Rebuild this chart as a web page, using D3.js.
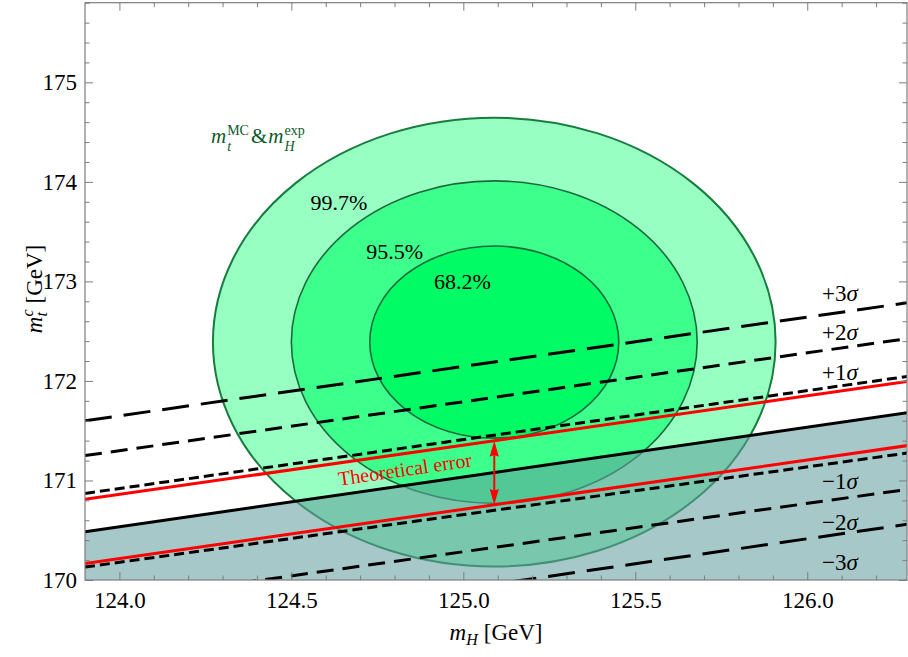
<!DOCTYPE html>
<html>
<head>
<meta charset="utf-8">
<script src="https://cdn.jsdelivr.net/npm/d3@7"></script>
<style>
  html, body { margin: 0; padding: 0; background: #fff; }
  svg { display: block; }
  svg text { font-family: "Liberation Serif", "Times New Roman", "DejaVu Serif", serif; }
</style>
</head>
<body>
<svg id="chart" width="908" height="657"></svg>
<script>
// ---- data ----------------------------------------------------------------
const mHDomain = [123.9, 126.29];
const mtDomain = [170, 175.8];

const xMajorTicks = [124.0, 124.5, 125.0, 125.5, 126.0];
const yMajorTicks = [170, 171, 172, 173, 174, 175];

// measured Higgs / top mass point and its confidence ellipses
const fitCenter = [125.09, 172.39];
const clLabels = ["99.7%", "95.5%", "68.2%"];
const clRadiusMH = [0.818, 0.59, 0.362];
const clRadiusMt = [2.255, 1.62, 0.965];
const clFill = ["#98ffc3", "#3dff8c", "#00fb64"];
const clStroke = ["#177c3e", "#1b6a3c", "#1b6a3c"];
const clStrokeW = [2, 1.6, 1.6];
const clLabelPos = [[124.556, 173.717], [124.718, 173.225], [124.915, 172.92]];

// stability bound and its bands, given by m_t at the two ends of the mH range
const lineEnds = [123.9, 126.3];
const centralBound = [170.485, 171.685];
const theoryUpper = [170.81, 172.0];
const theoryLower = [170.165, 171.355];

const sigmaLabels = ["+3", "+2", "+1", "\u22121", "\u22122", "\u22123"];
const sigmaOrder = [3, 2, 1, 1, 2, 3];
const sigmaBounds = [
  [171.60, 172.79],
  [171.25, 172.43],
  [170.87, 172.05],
  [170.13, 171.28],
  [169.75, 170.915],
  [169.36, 170.565]
];
const sigmaLabelPos = [
  [126.043, 172.873], [126.043, 172.481], [126.043, 172.08],
  [126.043, 170.985], [126.043, 170.573], [126.043, 170.171]
];
const errorArrowMH = 125.09;
const errorLabelPos = [124.833, 171.045];

// ---- layout --------------------------------------------------------------
const plot = { left: 85, right: 907, top: 2.7, bottom: 580 };
const svg = d3.select("#chart");
const x = d3.scaleLinear().domain(mHDomain).range([plot.left, plot.right]);
const y = d3.scaleLinear().domain(mtDomain).range([plot.bottom, plot.top]);

svg.append("defs").append("clipPath").attr("id", "plotClip")
  .append("rect")
  .attr("x", plot.left).attr("y", plot.top)
  .attr("width", plot.right - plot.left).attr("height", plot.bottom - plot.top);

const body = svg.append("g").attr("clip-path", "url(#plotClip)");

// confidence ellipses, largest first
clLabels.forEach((_, i) => {
  body.append("ellipse")
    .attr("cx", x(fitCenter[0]))
    .attr("cy", y(fitCenter[1]))
    .attr("rx", x(fitCenter[0] + clRadiusMH[i]) - x(fitCenter[0]))
    .attr("ry", y(fitCenter[1]) - y(fitCenter[1] + clRadiusMt[i]))
    .attr("fill", clFill[i])
    .attr("stroke", clStroke[i])
    .attr("stroke-width", clStrokeW[i]);
});

// excluded (metastable) region below the central bound, translucent
const boundPts = lineEnds.map((m, i) => [m, centralBound[i]]);
body.append("path")
  .datum(boundPts)
  .attr("d", d3.area().x(d => x(d[0])).y0(y(mtDomain[0])).y1(d => y(d[1])))
  .attr("fill", "rgb(99,158,158)")
  .attr("fill-opacity", 0.57);

const line = d3.line().x(d => x(d[0])).y(d => y(d[1]));
const dashBy = { 1: "10,5", 2: "17,9", 3: "27,12" };

// alpha_s variations
sigmaBounds.forEach((b, i) => {
  body.append("path")
    .datum(lineEnds.map((m, j) => [m, b[j]]))
    .attr("d", line)
    .attr("fill", "none")
    .attr("stroke", "#000")
    .attr("stroke-width", 3)
    .attr("stroke-dasharray", dashBy[sigmaOrder[i]]);
});

// theoretical error band edges
[theoryUpper, theoryLower].forEach(b => {
  body.append("path")
    .datum(lineEnds.map((m, j) => [m, b[j]]))
    .attr("d", line)
    .attr("fill", "none")
    .attr("stroke", "#ff0000")
    .attr("stroke-width", 3);
});

// central bound
body.append("path")
  .datum(boundPts)
  .attr("d", line)
  .attr("fill", "none")
  .attr("stroke", "#000")
  .attr("stroke-width", 3);

// double arrow spanning the theoretical error
const upAt = d3.scaleLinear().domain(lineEnds).range(theoryUpper);
const loAt = d3.scaleLinear().domain(lineEnds).range(theoryLower);
const ax = x(errorArrowMH), ayTop = y(upAt(errorArrowMH)), ayBot = y(loAt(errorArrowMH));
const headL = 16, headW = 4.6;
svg.append("line")
  .attr("x1", ax).attr("x2", ax)
  .attr("y1", ayTop + headL - 2).attr("y2", ayBot - headL + 2)
  .attr("stroke", "#ff0000").attr("stroke-width", 2);
svg.append("path")
  .attr("d", `M${ax},${ayTop} L${ax + headW},${ayTop + headL} Q${ax},${ayTop + headL - 3} ${ax - headW},${ayTop + headL} Z`)
  .attr("fill", "#ff0000");
svg.append("path")
  .attr("d", `M${ax},${ayBot} L${ax + headW},${ayBot - headL} Q${ax},${ayBot - headL + 3} ${ax - headW},${ayBot - headL} Z`)
  .attr("fill", "#ff0000");

// ---- axes / frame ---------------------------------------------------------
const frameColor = "#7d7d7d";
const minorX = d3.range(124.0, 126.25, 0.1).filter(v => !xMajorTicks.some(t => Math.abs(t - v) < 1e-6));
const minorY = d3.range(170.2, 175.8, 0.2).filter(v => !yMajorTicks.some(t => Math.abs(t - v) < 1e-6));

function styleAxis(g, withLabels) {
  g.select(".domain").remove();
  g.selectAll(".tick line").attr("stroke", frameColor).attr("stroke-width", 1);
  g.attr("font-family", null).attr("font-size", null);
  g.selectAll(".tick text")
    .style("font-size", "23px")
    .attr("fill", "#000");
  if (!withLabels) g.selectAll(".tick text").remove();
}

svg.append("g").attr("transform", `translate(0,${plot.bottom})`)
  .call(d3.axisBottom(x).tickValues(xMajorTicks).tickSize(-8).tickPadding(12).tickFormat(d3.format(".1f")))
  .call(g => styleAxis(g, true));
svg.append("g").attr("transform", `translate(0,${plot.bottom})`)
  .call(d3.axisBottom(x).tickValues(minorX).tickSize(-4.5))
  .call(g => styleAxis(g, false));
svg.append("g").attr("transform", `translate(0,${plot.top})`)
  .call(d3.axisTop(x).tickValues(xMajorTicks).tickSize(-8))
  .call(g => styleAxis(g, false));
svg.append("g").attr("transform", `translate(0,${plot.top})`)
  .call(d3.axisTop(x).tickValues(minorX).tickSize(-4.5))
  .call(g => styleAxis(g, false));

svg.append("g").attr("transform", `translate(${plot.left},0)`)
  .call(d3.axisLeft(y).tickValues(yMajorTicks).tickSize(-8).tickPadding(8).tickFormat(d3.format("d")))
  .call(g => styleAxis(g, true));
svg.append("g").attr("transform", `translate(${plot.left},0)`)
  .call(d3.axisLeft(y).tickValues(minorY).tickSize(-4.5))
  .call(g => styleAxis(g, false));
svg.append("g").attr("transform", `translate(${plot.right},0)`)
  .call(d3.axisRight(y).tickValues(yMajorTicks).tickSize(-8))
  .call(g => styleAxis(g, false));
svg.append("g").attr("transform", `translate(${plot.right},0)`)
  .call(d3.axisRight(y).tickValues(minorY).tickSize(-4.5))
  .call(g => styleAxis(g, false));

svg.append("rect")
  .attr("x", plot.left).attr("y", plot.top)
  .attr("width", plot.right - plot.left).attr("height", plot.bottom - plot.top)
  .attr("fill", "none").attr("stroke", frameColor).attr("stroke-width", 1.2);

// ---- text -------------------------------------------------------------------
// one text element built from tspans; a "stack" piece is set under the
// previous piece (subscript below superscript) instead of after it
function richText(parent, px, py, parts, opts = {}) {
  const g = parent.append("g");
  const t = g.append("text").attr("fill", opts.color || "#000");
  let curDy = 0, prevW = 0, carry = 0;
  parts.forEach(p => {
    const ts = t.append("tspan")
      .style("font-size", p.fs + "px")
      .style("font-style", p.it ? "italic" : "normal")
      .text(p.t);
    const target = p.dy || 0;
    ts.attr("dy", target - curDy);
    curDy = target;
    let dx;
    if (p.stack) {
      dx = -prevW;
    } else {
      dx = carry + (p.gap || 0);
      carry = 0;
    }
    ts.attr("dx", dx);
    const w = ts.node().getComputedTextLength();
    if (p.stack) carry = Math.max(prevW, w) - w;
    prevW = w;
  });
  const bb = t.node().getBBox();
  const shift = opts.anchor === "middle" ? -(bb.x + bb.width / 2) : -bb.x;
  t.attr("x", shift);
  g.attr("transform", `translate(${px},${py})${opts.rotate ? ` rotate(${opts.rotate})` : ""}`);
  return g;
}

// x-axis title
richText(svg, 496, 640, [
  { t: "m", it: true, fs: 23 },
  { t: "H", it: true, fs: 16, dy: 5 },
  { t: "[GeV]", fs: 23, gap: 6 }
], { anchor: "middle" });

// y-axis title
richText(svg, 42, 289, [
  { t: "m", it: true, fs: 23 },
  { t: "c", it: true, fs: 16, dy: -9 },
  { t: "t", it: true, fs: 16, dy: 5, stack: true },
  { t: "[GeV]", fs: 23, gap: 6 }
], { anchor: "middle", rotate: -90 });

// ellipse legend
richText(svg, 211, 143, [
  { t: "m", it: true, fs: 21 },
  { t: "MC", fs: 14, dy: -8, gap: 1 },
  { t: "t", it: true, fs: 14, dy: 8, stack: true },
  { t: "&", fs: 21, gap: 2 },
  { t: "m", it: true, fs: 21, gap: 1 },
  { t: "exp", fs: 14, dy: -8, gap: 1 },
  { t: "H", it: true, fs: 14, dy: 8, stack: true }
], { color: "#0b5a2a" });

// confidence level labels
clLabels.forEach((lab, i) => {
  svg.append("text")
    .attr("x", x(clLabelPos[i][0]))
    .attr("y", y(clLabelPos[i][1]))
    .style("font-size", "22px")
    .attr("fill", "#000")
    .text(lab);
});

// sigma labels
sigmaLabels.forEach((lab, i) => {
  const t = svg.append("text")
    .attr("x", x(sigmaLabelPos[i][0]))
    .attr("y", y(sigmaLabelPos[i][1]) + 7)
    .style("font-size", "23px")
    .attr("fill", "#000");
  t.append("tspan").text(lab);
  t.append("tspan").style("font-style", "italic").text("\u03c3");
});

// label along the error band
const ang = Math.atan2(y(centralBound[1]) - y(centralBound[0]), x(lineEnds[1]) - x(lineEnds[0])) * 180 / Math.PI;
svg.append("text")
  .attr("transform", `translate(${x(errorLabelPos[0])},${y(errorLabelPos[1])}) rotate(${ang})`)
  .attr("text-anchor", "middle")
  .style("font-size", "20px")
  .attr("fill", "#ff0000")
  .text("Theoretical error");
</script>
</body>
</html>
